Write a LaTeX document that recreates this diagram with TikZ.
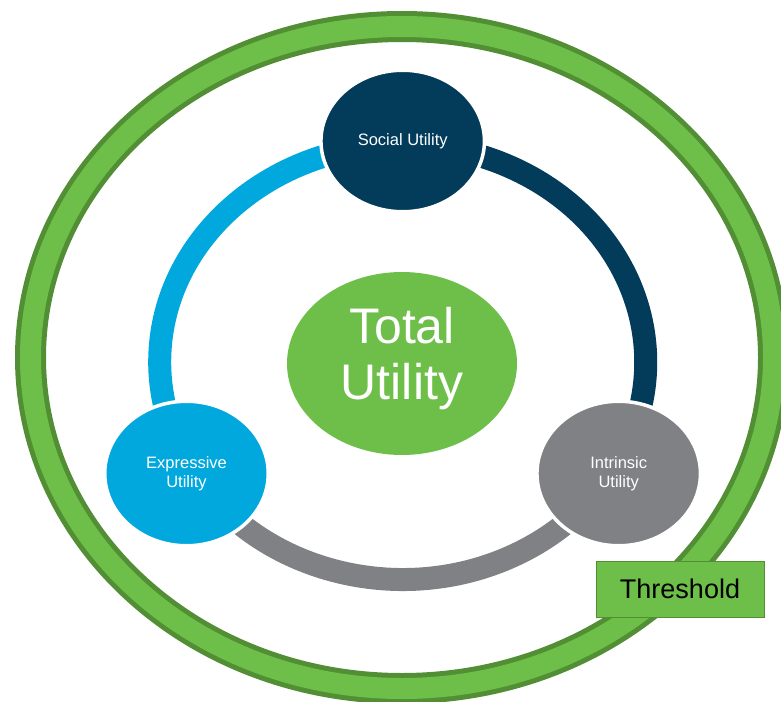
\documentclass[tikz,border=0pt]{standalone}
\usepackage{fontspec}
\setmainfont{Liberation Sans}
\usetikzlibrary{shapes.geometric}

\definecolor{navy}{RGB}{3,60,90}
\definecolor{skyblue}{RGB}{0,168,222}
\definecolor{midgray}{RGB}{128,129,132}
\definecolor{leafgreen}{RGB}{110,190,74}
\definecolor{darkleaf}{RGB}{82,142,52}

\begin{document}
\begin{tikzpicture}[x=1pt,y=-1pt,
  utilitynode/.style={ellipse, draw=white, line width=3.5pt,
    minimum width=163.5pt, minimum height=144.5pt, inner sep=0pt,
    text=white, align=center, font=\fontsize{16.5}{19}\selectfont},
  link/.style={line width=23pt},
  centrenode/.style={ellipse, fill=leafgreen, minimum width=230pt,
    minimum height=183pt, inner sep=0pt},
  centrelabel/.style={text=white, align=center, inner sep=0pt,
    font=\fontsize{50}{56}\selectfont},
  thresholdbox/.style={rectangle, fill=leafgreen, draw=darkleaf,
    line width=1pt, minimum width=168pt, minimum height=56pt,
    inner sep=0pt, font=\fontsize{27}{30}\selectfont}
]
\clip (0,0) rectangle (781,701);

% outer threshold ring
\coordinate (ringc) at (402,357.5);
\draw[darkleaf, line width=31pt] (ringc) ellipse [x radius=371.5, y radius=331];
\draw[leafgreen, line width=21pt] (ringc) ellipse [x radius=371.5, y radius=331];

% links between the three utilities
\coordinate (hub) at (402.7,362);
\draw[link, skyblue] ([shift={(270:243 and 217.5)}]hub)
  arc[start angle=270, end angle=150, x radius=243, y radius=217.5];
\draw[link, midgray] ([shift={(150:243 and 217.5)}]hub)
  arc[start angle=150, end angle=30, x radius=243, y radius=217.5];
\draw[link, navy] ([shift={(30:243 and 217.5)}]hub)
  arc[start angle=30, end angle=-90, x radius=243, y radius=217.5];

% utility nodes
\node[utilitynode, fill=navy, minimum height=141.5pt] (social) at (402.7,141) {Social Utility};
\node[utilitynode, fill=skyblue] (expressive) at (186.5,473.5) {Expressive\\Utility};
\node[utilitynode, fill=midgray] (intrinsic) at (618.7,473.5) {Intrinsic\\Utility};

% centre
\node[centrenode] (total) at (402,363.5) {};
\node[centrelabel] (totallabel) at (402,359) {Total\\Utility};

% threshold label
\node[thresholdbox] (threshold) at (680,589) {Threshold};
\end{tikzpicture}
\end{document}
